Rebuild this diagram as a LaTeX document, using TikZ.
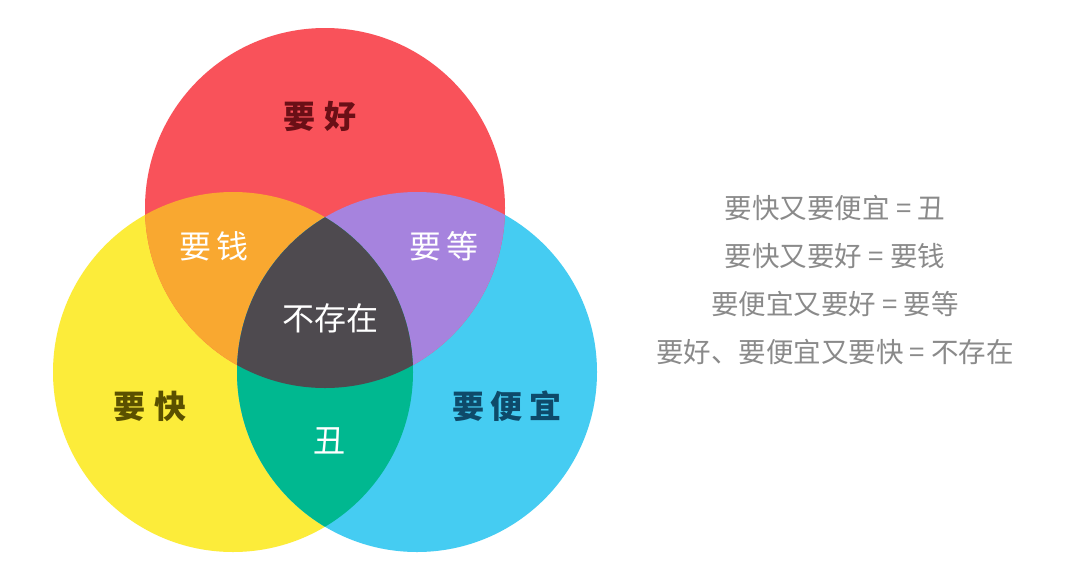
\documentclass[tikz,border=0pt]{standalone}
\usepackage{fontspec}
\newfontfamily\cjk{Noto Sans CJK SC}
\definecolor{cRed}{HTML}{F9525A}
\definecolor{cYel}{HTML}{FCEC3A}
\definecolor{cBlu}{HTML}{45CCF2}
\definecolor{cOra}{HTML}{F9A830}
\definecolor{cPur}{HTML}{A683DE}
\definecolor{cGrn}{HTML}{00B890}
\definecolor{cDrk}{HTML}{4E4A4F}
\definecolor{tRed}{HTML}{6A0F16}
\definecolor{tYel}{HTML}{5A5000}
\definecolor{tBlu}{HTML}{0E4A6A}
\definecolor{tGry}{HTML}{8A8A8A}
\tikzset{
  biglabel/.style={font=\cjk\bfseries\fontsize{32}{36}\selectfont, inner sep=0pt},
  whitelabel/.style={font=\cjk\fontsize{32}{36}\selectfont, text=white, inner sep=0pt},
  rule/.style={font=\cjk\fontsize{27.5}{32}\selectfont, text=tGry, inner sep=0pt}
}
\begin{document}
\begin{tikzpicture}[x=1pt,y=-1pt]
\fill[white] (0,0) rectangle (1078,574);
\useasboundingbox (0,0) rectangle (1078,574);
\coordinate (R) at (325,208);
\coordinate (Y) at (233,372);
\coordinate (B) at (417,372);
\def\rad{180pt}
\fill[cYel] (Y) circle[radius=\rad];
\fill[cBlu] (B) circle[radius=\rad];
\fill[cRed] (R) circle[radius=\rad];
\begin{scope}
  \clip (R) circle[radius=\rad];
  \fill[cOra] (Y) circle[radius=\rad];
  \fill[cPur] (B) circle[radius=\rad];
\end{scope}
\begin{scope}
  \clip (Y) circle[radius=\rad];
  \fill[cGrn] (B) circle[radius=\rad];
\end{scope}
\begin{scope}
  \clip (Y) circle[radius=\rad];
  \clip (B) circle[radius=\rad];
  \fill[cDrk] (R) circle[radius=\rad];
\end{scope}
\node[biglabel, text=tRed] (good) at (320,116) {要\hspace{10pt}好};
\node[biglabel, text=tYel] (fast) at (150,406) {要\hspace{10pt}快};
\node[biglabel, text=tBlu] (cheap) at (507,406) {要\hspace{7pt}便\hspace{7pt}宜};
\node[whitelabel] (money) at (214,246) {要\hspace{6pt}钱};
\node[whitelabel] (wait) at (444,246) {要\hspace{6pt}等};
\node[whitelabel] (none) at (330,318) {不存在};
\node[whitelabel] (ugly) at (329,441) {丑};
\node[rule] (r1) at (835,208) {要快又要便宜 = 丑};
\node[rule] (r2) at (835,256) {要快又要好 = 要钱};
\node[rule] (r3) at (835,304) {要便宜又要好 = 要等};
\node[rule] (r4) at (835,352) {要好、要便宜又要快 = 不存在};
\end{tikzpicture}
\end{document}
